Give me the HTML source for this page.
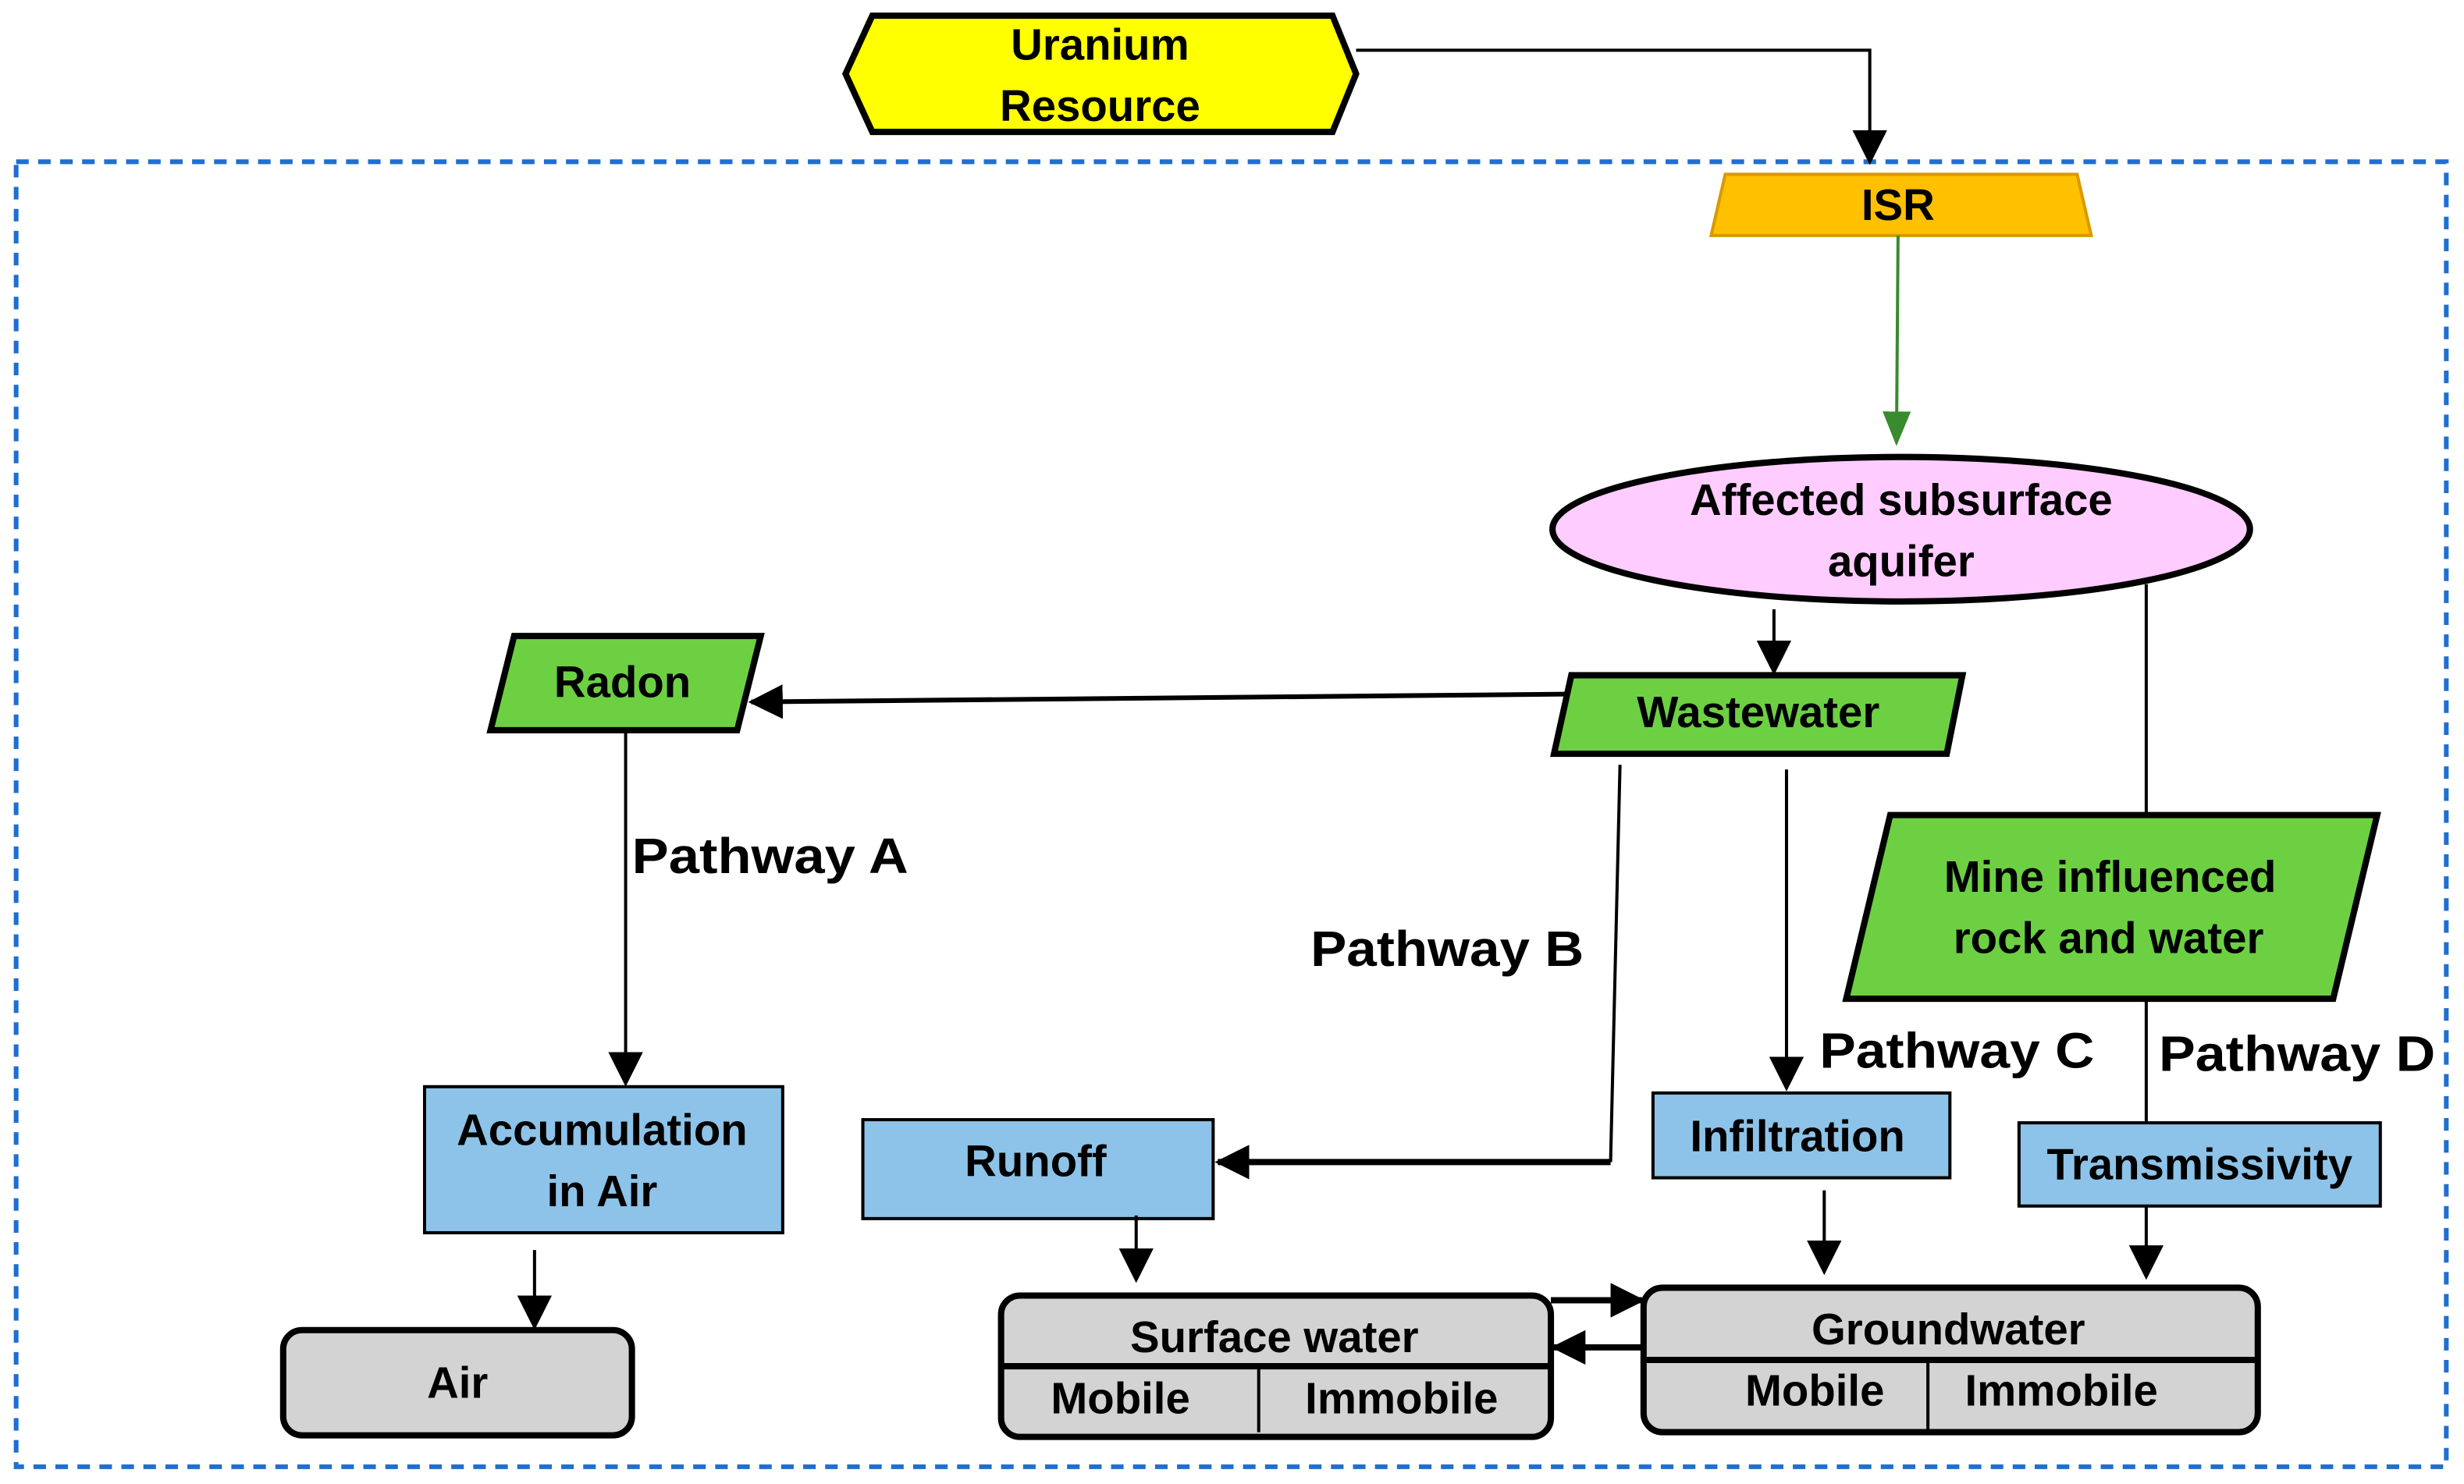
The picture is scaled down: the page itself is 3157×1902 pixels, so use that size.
<!DOCTYPE html>
<html><head><meta charset="utf-8"><style>html,body{margin:0;padding:0;background:#fff}svg{display:block}</style></head>
<body>
<svg width="3157" height="1902" viewBox="0 0 1568 945" xmlns="http://www.w3.org/2000/svg" font-family="Liberation Sans, sans-serif" font-weight="bold">
<defs>
<marker id="ab2" markerWidth="22" markerHeight="22" refX="20" refY="11" orient="auto" markerUnits="userSpaceOnUse" viewBox="0 0 22 22"><path d="M0,0 L22,11 L0,22 z" fill="#000"/></marker>
<marker id="ag" markerWidth="22" markerHeight="22" refX="20" refY="11" orient="auto" markerUnits="userSpaceOnUse" viewBox="0 0 22 22"><path d="M0,2 L22,11 L0,20 z" fill="#3a8a30"/></marker>
</defs>
<rect x="10" y="103" width="1547" height="831" fill="none" stroke="#1f6fd0" stroke-width="3" stroke-dasharray="8,6"/>
<polygon points="555,10 848,10 863,47 848,84 555,84 538,47" fill="#ffff00" stroke="#000" stroke-width="4"/>
<g font-size="28">
<text x="700" y="38" text-anchor="middle">Uranium</text>
<text x="700" y="77" text-anchor="middle">Resource</text>
<text x="1208" y="140" text-anchor="middle">ISR</text>
</g>
<polyline points="863,32 1190,32 1190,103" fill="none" stroke="#000" stroke-width="2" marker-end="url(#ab2)"/>
<polygon points="1098,111 1322,111 1331,150 1089,150" fill="#ffc000" stroke="#d89a00" stroke-width="2"/>
<text x="1208" y="140" font-size="28" text-anchor="middle">ISR</text>
<line x1="1208" y1="150" x2="1207" y2="282" stroke="#3a8a30" stroke-width="2" marker-end="url(#ag)"/>
<ellipse cx="1210" cy="337" rx="222" ry="46" fill="#ffccff" stroke="#000" stroke-width="4"/>
<line x1="1129" y1="388" x2="1129" y2="428" stroke="#000" stroke-width="2" marker-end="url(#ab2)"/>
<polygon points="1000,430 1249,430 1239,480 989,480" fill="#6dd043" stroke="#000" stroke-width="4"/>
<polygon points="327,405 484,405 469,465 312,465" fill="#6dd043" stroke="#000" stroke-width="4"/>
<line x1="997" y1="442" x2="478" y2="447" stroke="#000" stroke-width="3" marker-end="url(#ab2)"/>
<line x1="398" y1="465" x2="398" y2="690" stroke="#000" stroke-width="2" marker-end="url(#ab2)"/>
<rect x="270" y="692" width="228" height="93" fill="#8dc3e8" stroke="#000" stroke-width="2"/>
<line x1="340" y1="796" x2="340" y2="845" stroke="#000" stroke-width="2" marker-end="url(#ab2)"/>
<rect x="180" y="847" width="222" height="67" rx="12" fill="#d3d3d3" stroke="#000" stroke-width="4"/>
<polyline points="1031,487 1025,740" fill="none" stroke="#000" stroke-width="2"/>
<line x1="1025" y1="740" x2="775" y2="740" stroke="#000" stroke-width="4" marker-end="url(#ab2)"/>
<rect x="549" y="713" width="223" height="63" fill="#8dc3e8" stroke="#000" stroke-width="2"/>
<line x1="723" y1="774" x2="723" y2="815" stroke="#000" stroke-width="2" marker-end="url(#ab2)"/>
<rect x="637" y="825" width="350" height="90" rx="12" fill="#d3d3d3" stroke="#000" stroke-width="4"/>
<line x1="637" y1="870" x2="987" y2="870" stroke="#000" stroke-width="4"/>
<line x1="801" y1="870" x2="801" y2="912" stroke="#000" stroke-width="2"/>
<line x1="1137" y1="490" x2="1137" y2="693" stroke="#000" stroke-width="2" marker-end="url(#ab2)"/>
<rect x="1052" y="696" width="189" height="54" fill="#8dc3e8" stroke="#000" stroke-width="2"/>
<line x1="1161" y1="758" x2="1161" y2="810" stroke="#000" stroke-width="2" marker-end="url(#ab2)"/>
<line x1="1366" y1="372" x2="1366" y2="519" stroke="#000" stroke-width="2"/>
<polygon points="1203,519 1513,519 1485,636 1175,636" fill="#6dd043" stroke="#000" stroke-width="4"/>
<line x1="1366" y1="636" x2="1366" y2="715" stroke="#000" stroke-width="2"/>
<rect x="1285" y="715" width="230" height="53" fill="#8dc3e8" stroke="#000" stroke-width="2"/>
<line x1="1366" y1="768" x2="1366" y2="813" stroke="#000" stroke-width="2" marker-end="url(#ab2)"/>
<rect x="1046" y="820" width="391" height="92" rx="12" fill="#d3d3d3" stroke="#000" stroke-width="4"/>
<line x1="1046" y1="866" x2="1437" y2="866" stroke="#000" stroke-width="4"/>
<line x1="1227" y1="866" x2="1227" y2="910" stroke="#000" stroke-width="2"/>
<line x1="987" y1="828" x2="1045" y2="828" stroke="#000" stroke-width="4" marker-end="url(#ab2)"/>
<line x1="1045" y1="858" x2="989" y2="858" stroke="#000" stroke-width="4" marker-end="url(#ab2)"/>
<g font-size="28" text-anchor="middle">
<text x="1210" y="328">Affected subsurface</text>
<text x="1210" y="367">aquifer</text>
<text x="1119" y="463">Wastewater</text>
<text x="396" y="444">Radon</text>
<text x="383" y="729">Accumulation</text>
<text x="383" y="768">in Air</text>
<text x="291" y="890">Air</text>
<text x="659" y="749">Runoff</text>
<text x="811" y="861">Surface water</text>
<text x="713" y="900">Mobile</text>
<text x="892" y="900">Immobile</text>
<text x="1144" y="733">Infiltration</text>
<text x="1343" y="568">Mine influenced</text>
<text x="1342" y="607">rock and water</text>
<text x="1400" y="751">Transmissivity</text>
<text x="1240" y="856">Groundwater</text>
<text x="1155" y="895">Mobile</text>
<text x="1312" y="895">Immobile</text>
</g>
<g font-size="32">
<text x="402" y="556" textLength="176" lengthAdjust="spacingAndGlyphs">Pathway A</text>
<text x="834" y="615" textLength="174" lengthAdjust="spacingAndGlyphs">Pathway B</text>
<text x="1158" y="680" textLength="175" lengthAdjust="spacingAndGlyphs">Pathway C</text>
<text x="1374" y="682" textLength="176" lengthAdjust="spacingAndGlyphs">Pathway D</text>
</g>
</svg>
</body></html>
